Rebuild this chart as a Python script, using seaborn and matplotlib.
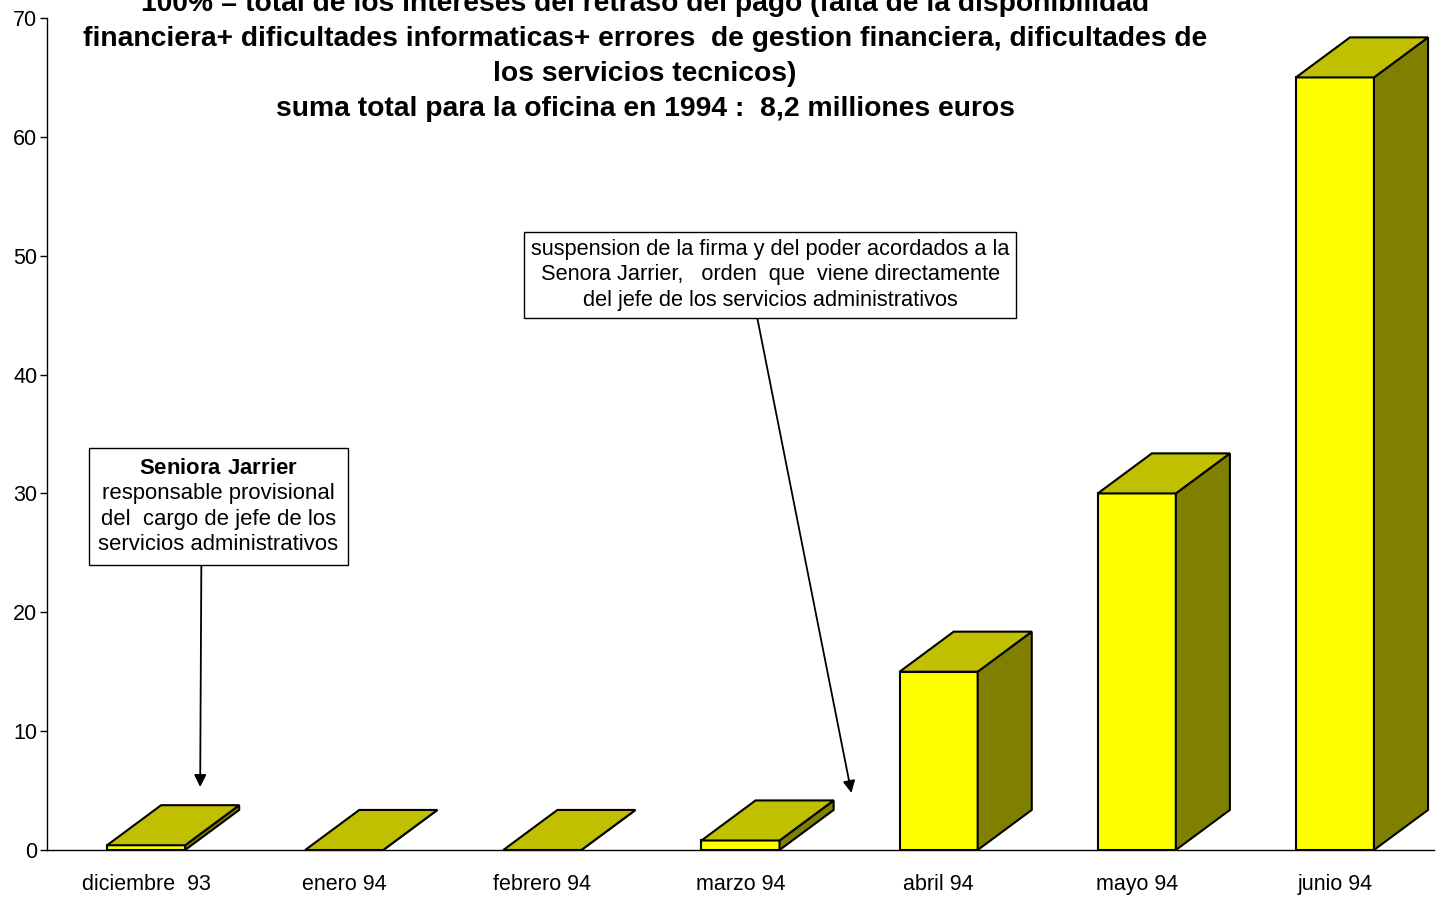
import numpy as np
import matplotlib
matplotlib.use("Agg")
import matplotlib.pyplot as plt
from matplotlib.patches import Polygon
import seaborn as sns

# datos
meses = ["diciembre  93", "enero 94", "febrero 94", "marzo 94", "abril 94", "mayo 94", "junio 94"]
valores = [0.4, 0.0, 0.0, 0.8, 15.0, 30.0, 65.0]
titulo = ["100% = total de los intereses del retraso del pago (falta de la disponibilidad",
          "financiera+ dificultades informaticas+ errores  de gestion financiera, dificultades de",
          "los servicios tecnicos)",
          "suma total para la oficina en 1994 :  8,2 milliones euros"]
nota1 = ["Seniora Jarrier", "responsable provisional", "del  cargo de jefe de los",
         "servicios administrativos"]
nota2 = ["suspension de la firma y del poder acordados a la",
         "Senora Jarrier,   orden  que  viene directamente",
         "del jefe de los servicios administrativos"]

sns.set_theme(style="white")
plt.rcParams["font.family"] = ["Liberation Sans", "DejaVu Sans"]
plt.rcParams["text.color"] = "black"
plt.rcParams["mathtext.fontset"] = "custom"
plt.rcParams["mathtext.rm"] = "Liberation Sans"
plt.rcParams["mathtext.bf"] = "Liberation Sans:bold"

fig = plt.figure(figsize=(14.42, 8.98), dpi=100)
ax = fig.add_axes([47 / 1442, 48 / 898, 1387 / 1442, 832 / 898])

ancho = 0.394
sns.barplot(x=meses, y=valores, color="#FFFF00", saturation=1, width=ancho,
            edgecolor="black", linewidth=1.5, ax=ax, zorder=3)

# profundidad del efecto 3D
dx, dy = 0.273, 3.37
for p in ax.patches[:len(valores)]:
    x0 = p.get_x()
    x1 = x0 + p.get_width()
    h = p.get_height()
    lado = Polygon([(x1, 0), (x1 + dx, dy), (x1 + dx, h + dy), (x1, h)], closed=True,
                   fc="#808000", ec="black", lw=1.5, zorder=3, clip_on=False)
    techo = Polygon([(x0, h), (x1, h), (x1 + dx, h + dy), (x0 + dx, h + dy)], closed=True,
                    fc="#C0C000", ec="black", lw=1.5, zorder=4, clip_on=False)
    ax.add_patch(lado)
    ax.add_patch(techo)

ax.set_xlim(-0.5, len(meses) - 0.5)
ax.set_ylim(0, 70)
ax.set_yticks(range(0, 71, 10))
ax.set_xticks(range(len(meses)))
ax.set_xticklabels(meses)
ax.set_xticks(np.arange(-0.5, len(meses), 1), minor=True)
ax.tick_params(axis="x", which="major", length=0, pad=17, labelsize=15.5, colors="black")
ax.tick_params(axis="x", which="minor", length=9, width=1, direction="out", color="black")
ax.tick_params(axis="y", length=5, width=1, direction="out", pad=2, labelsize=15.5,
               left=True, colors="black")
ax.set_xlabel("")
ax.set_ylabel("")
for s in ["top", "right"]:
    ax.spines[s].set_visible(False)
for s in ["left", "bottom"]:
    ax.spines[s].set_color("black")
    ax.spines[s].set_linewidth(1)

# titulo (la primera linea queda cortada arriba)
fig.text(645 / 1442, 1 - 56.5 / 898, "\n".join(titulo), ha="center", va="center",
         fontsize=20.3, fontweight="bold", linespacing=1.45, color="black")

# notas
texto1 = r"$\bf{Seniora\ Jarrier}$" + "\n" + "\n".join(nota1[1:])
ax.annotate(texto1, xy=(0.273, 5.3), xytext=(0.364, 28.9), ha="center", va="center",
            fontsize=15.9, linespacing=1.29, color="black",
            bbox=dict(boxstyle="square,pad=0.42", fc="white", ec="black", lw=1),
            arrowprops=dict(arrowstyle="-|>", color="black", lw=1.3, relpos=(0.43, 0),
                            shrinkA=0, shrinkB=0, mutation_scale=18), zorder=5)

ax.annotate("\n".join(nota2), xy=(3.56, 4.8), xytext=(3.15, 48.4), ha="center", va="center",
            fontsize=15.7, linespacing=1.29, color="black",
            bbox=dict(boxstyle="square,pad=0.32", fc="white", ec="black", lw=1),
            arrowprops=dict(arrowstyle="-|>", color="black", lw=1.3, relpos=(0.47, 0),
                            shrinkA=0, shrinkB=0, mutation_scale=18), zorder=5)

fig.savefig("out.png", dpi=100, facecolor="white")
